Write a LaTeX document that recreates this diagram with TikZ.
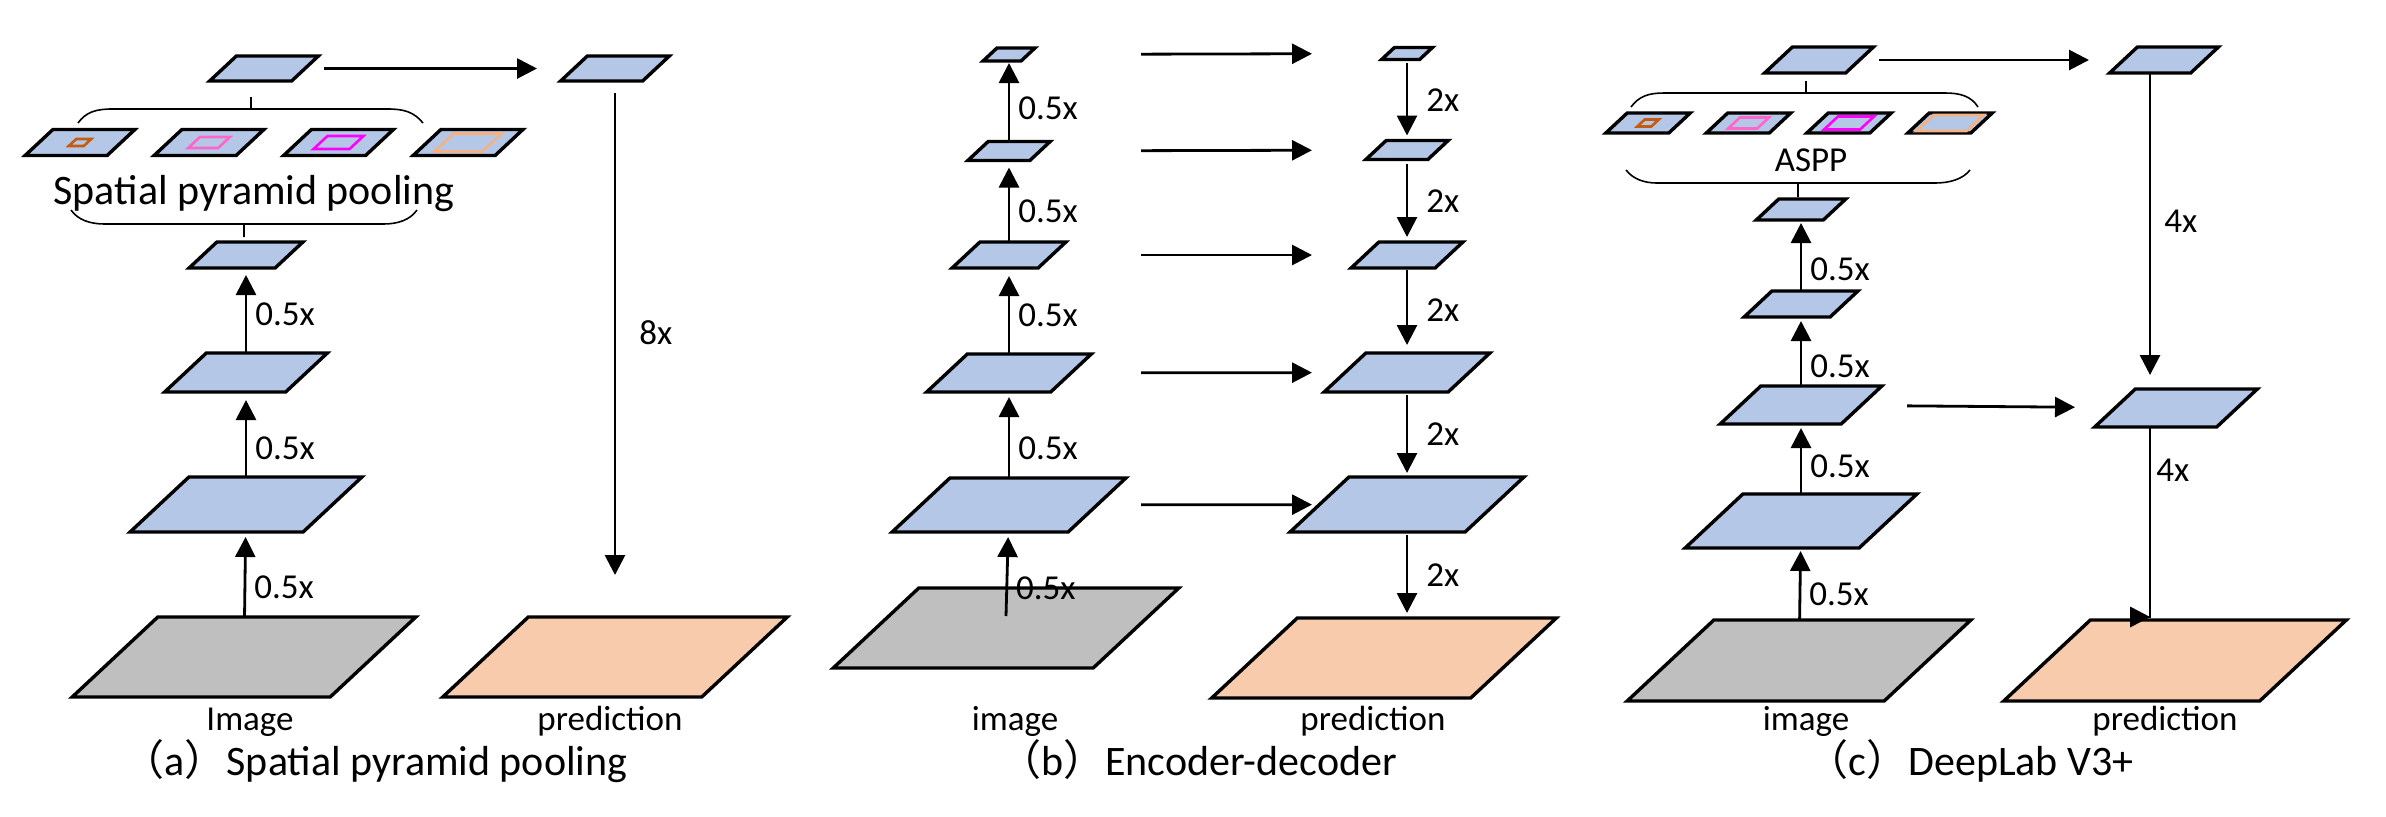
\documentclass[tikz,border=0pt]{standalone}
\usepackage{fontspec}
\setmainfont{Carlito}
\newfontfamily\cjk{Noto Sans CJK SC}
\usetikzlibrary{arrows.meta,calc}
\definecolor{featblue}{HTML}{B4C7E7}
\definecolor{imggray}{HTML}{BFBFBF}
\definecolor{predpeach}{HTML}{F8CBAD}
\definecolor{wdark}{HTML}{C55A11}
\definecolor{wpink}{HTML}{FF66CC}
\definecolor{wmag}{HTML}{FF00FF}
\definecolor{wpeach}{HTML}{F4B183}

\begin{document}
\begin{tikzpicture}[x=0.5pt, y=-0.5pt, font=\fontsize{17.5pt}{21pt}\selectfont, fmap/.style={rectangle, inner sep=0pt, outer sep=0pt}, sz/.style 2 args={minimum width={#1*0.5pt}, minimum height={#2*0.5pt}}, mapline/.style={draw=black, line width=1.7pt}, winline/.style={line width=1.3pt}, arrow/.style={-{Triangle[length=10pt, width=10pt]}, line width=1.4pt}, lbl/.style={right, inner sep=4pt}, bracketline/.style={line width=0.8pt}, undertext/.style={anchor=base, inner sep=0pt}, captext/.style={anchor=base, inner sep=0pt, font=\fontsize{21pt}{25pt}\selectfont}]
\useasboundingbox (0,0) rectangle (2386,816);
% (a) spatial pyramid pooling
\node[fmap, sz={82}{25}] (atop) at (264,68.5) {};
\node[fmap, sz={82}{25}] (apool) at (615,68.5) {};
\node[fmap, sz={82}{26}] (as1) at (80,142.5) {};
\node[fmap, sz={82}{26}] (as2) at (209,142.5) {};
\node[fmap, sz={82}{26}] (as3) at (338.5,142.5) {};
\node[fmap, sz={82}{26}] (as4) at (468,142.5) {};
\node[fmap, sz={15}{7}] (aw1) at (as1) {};
\node[fmap, sz={30}{11}] (aw2) at (as2) {};
\node[fmap, sz={36}{13}] (aw3) at (as3) {};
\node[fmap, sz={48}{18}] (aw4) at (as4) {};
\node[fmap, sz={86}{26}] (a3) at (246,255) {};
\node[fmap, sz={121}{39}] (a2) at (246,372.5) {};
\node[fmap, sz={173}{55}] (a1) at (246,504.5) {};
\node[fmap, sz={258}{80}] (aimg) at (244,657) {};
\node[fmap, sz={259}{80}] (apred) at (615,657) {};
% (b) encoder-decoder
\node[fmap, sz={38}{13}] (e5) at (1009,54.5) {};
\node[fmap, sz={62}{19}] (e4) at (1009,151) {};
\node[fmap, sz={86}{26}] (e3) at (1009,255) {};
\node[fmap, sz={124}{38}] (e2) at (1009,373) {};
\node[fmap, sz={176}{54}] (e1) at (1009,505) {};
\node[fmap, sz={260}{80}] (eimg) at (1006,628) {};
\node[fmap, sz={38}{12}] (d5) at (1407,53.5) {};
\node[fmap, sz={62}{19}] (d4) at (1407,150) {};
\node[fmap, sz={84}{26}] (d3) at (1407,255) {};
\node[fmap, sz={124}{39}] (d2) at (1407,372.5) {};
\node[fmap, sz={175}{55}] (d1) at (1407,504.5) {};
\node[fmap, sz={259}{80}] (dpred) at (1384,658) {};
% (c) DeepLab V3+
\node[fmap, sz={81}{26}] (ctop) at (1819,60) {};
\node[fmap, sz={81}{26}] (cpool) at (2164,60) {};
\node[fmap, sz={63}{20}] (cs1) at (1648,123) {};
\node[fmap, sz={63}{20}] (cs2) at (1748.5,123) {};
\node[fmap, sz={63}{20}] (cs3) at (1849,123) {};
\node[fmap, sz={63}{20}] (cs4) at (1950,123) {};
\node[fmap, sz={14}{7}] (cw1) at (cs1) {};
\node[fmap, sz={29}{11}] (cw2) at (cs2) {};
\node[fmap, sz={36}{13}] (cw3) at (cs3) {};
\node[fmap, sz={50}{16}] (cw4) at (cs4) {};
\node[fmap, sz={67}{21}] (cn3) at (1801,209.5) {};
\node[fmap, sz={86}{26}] (cn2) at (1801,304) {};
\node[fmap, sz={121}{38}] (cn1) at (1801,405) {};
\node[fmap, sz={174}{54}] (cn0) at (1801,521) {};
\node[fmap, sz={257}{81}] (cimg) at (1799,660.5) {};
\node[fmap, sz={122}{38}] (cd1) at (2176,408) {};
\node[fmap, sz={256}{81}] (cpred) at (2175,660.5) {};
% slanted feature maps
\foreach \m/\col in {atop/featblue, apool/featblue, as1/featblue, as2/featblue, as3/featblue, as4/featblue, a3/featblue, a2/featblue, a1/featblue, aimg/imggray, apred/predpeach, e5/featblue, e4/featblue, e3/featblue, e2/featblue, e1/featblue, eimg/imggray, d5/featblue, d4/featblue, d3/featblue, d2/featblue, d1/featblue, dpred/predpeach, ctop/featblue, cpool/featblue, cs1/featblue, cs2/featblue, cs3/featblue, cs4/featblue, cn3/featblue, cn2/featblue, cn1/featblue, cn0/featblue, cimg/imggray, cd1/featblue, cpred/predpeach}
  \filldraw[mapline, fill=\col] let \p1=(\m.north west), \p2=(\m.south east), \n1={0.535*(\y1-\y2)} in (\x1+\n1,\y1) -- (\x2+\n1,\y1) -- (\x2-\n1,\y2) -- (\x1-\n1,\y2) -- cycle;
\foreach \m/\col in {aw1/wdark, aw2/wpink, aw3/wmag, aw4/wpeach, cw1/wdark, cw2/wpink, cw3/wmag, cw4/wpeach}
  \draw[winline, draw=\col] let \p1=(\m.north west), \p2=(\m.south east), \n1={0.535*(\y1-\y2)} in (\x1+\n1,\y1) -- (\x2+\n1,\y1) -- (\x2-\n1,\y2) -- (\x1-\n1,\y2) -- cycle;
% (a) connectors and texts
\node[anchor=base, inner sep=1pt, font=\fontsize{21pt}{25pt}\selectfont] (asppt) at (254,204) {Spatial pyramid pooling};
\draw[bracketline] (78,123) .. controls (86,112) and (96,109) .. (112,109) -- (388,109) .. controls (404,109) and (414,112) .. (423,123) (251,97) -- (251,109);
\draw[bracketline] (71,210) .. controls (78,220) and (90,224) .. (105,224) -- (383,224) .. controls (398,224) and (410,220) .. (417,210) (244,224) -- (244,237);
\draw[arrow, shorten <=9.5pt, shorten >=18.5pt] (atop) -- (apool);
\draw[arrow, shorten <=6pt, shorten >=21pt] (apool) -- node[lbl, pos=0.47, xshift=7.5pt] (la8) {8x} (apred);
\draw[arrow, shorten >=2.5pt] (aimg) -- node[lbl, pos=0.35] (la1) {0.5x} (a1);
\draw[arrow, shorten >=4pt] (a1) -- node[lbl, pos=0.34] (la2) {0.5x} (a2);
\draw[arrow, shorten >=3.5pt] (a2) -- node[lbl, pos=0.45] (la3) {0.5x} (a3);
\node[undertext] (aimgtxt) at (250,730) {Image};
\node[undertext] (apredtxt) at (610,730) {prediction};
\node[captext] (acap) at (375,775) {{\cjk （}a{\cjk ）}Spatial pyramid pooling};
% (b) connectors and texts
\draw[arrow, shorten >=2.5pt] ([yshift=6pt]eimg.center) -- node[lbl, pos=0.33] (lb1) {0.5x} (e1);
\draw[arrow, shorten >=2.5pt] (e1) -- node[lbl, pos=0.35] (lb2) {0.5x} (e2);
\draw[arrow, shorten >=4pt] (e2) -- node[lbl, pos=0.45] (lb3) {0.5x} (e3);
\draw[arrow, shorten >=3.5pt] (e3) -- node[lbl, pos=0.38] (lb4) {0.5x} (e4);
\draw[arrow, shorten >=1pt] (e4) -- node[lbl, pos=0.41] (lb5) {0.5x} (e5);
\draw[arrow, shorten <=1.5pt, shorten >=2.5pt] (d5) -- node[lbl, xshift=5pt] (ld4) {2x} (d4);
\draw[arrow, shorten <=2pt, shorten >=2.5pt] (d4) -- node[lbl, xshift=5pt] (ld3) {2x} (d3);
\draw[arrow, shorten <=1pt, shorten >=4pt] (d3) -- node[lbl, xshift=5pt] (ld2) {2x} (d2);
\draw[arrow, shorten <=1.5pt, shorten >=2pt] (d2) -- node[lbl, xshift=5pt] (ld1) {2x} (d1);
\draw[arrow, shorten <=1.5pt, shorten >=2.5pt] (d1) -- node[lbl, xshift=5pt] (ld0) {2x} (d1 |- dpred.north);
\foreach \r/\sa/\sb in {5/56.5pt/38pt, 4/50.5pt/32pt, 3/44.5pt/26.5pt, 2/35pt/16.5pt, 1/22pt/3.75pt}
  \draw[arrow, shorten <=\sa, shorten >=\sb] (e\r) -- (d\r);
\node[undertext] (eimgtxt) at (1015,730) {image};
\node[undertext] (dpredtxt) at (1373,730) {prediction};
\node[captext] (bcap) at (1198,775) {{\cjk （}b{\cjk ）}Encoder-decoder};
% (c) connectors and texts
\node[anchor=base, inner sep=1pt] (caspp) at (1811,171) {ASPP};
\draw[bracketline] (1631,107) .. controls (1639,96) and (1649,93) .. (1664,93) -- (1945,93) .. controls (1960,93) and (1971,96) .. (1978,107) (1806,81) -- (1806,93);
\draw[bracketline] (1626,170) .. controls (1633,179) and (1644,183) .. (1657,183) -- (1935,183) .. controls (1950,183) and (1963,179) .. (1970,170) (1798,183) -- (1798,197);
\draw[arrow, shorten <=9.75pt, shorten >=17.25pt] (ctop) -- (cpool);
\draw[arrow, shorten <=22.75pt, shorten >=20pt] (cn1) -- (cd1);
\draw[arrow, shorten >=1.5pt] (cimg) -- node[lbl, pos=0.36] (lc1) {0.5x} (cn0);
\draw[arrow, shorten >=2pt] (cn0) -- node[lbl, pos=0.39] (lc2) {0.5x} (cn1);
\draw[arrow, shorten >=2pt] (cn1) -- node[lbl, pos=0.29] (lc3) {0.5x} (cn2);
\draw[arrow, shorten >=1.5pt] (cn2) -- node[lbl, pos=0.31] (lc4) {0.5x} (cn3);
\path (cpool.south |- cd1.north) ++(-7pt,0) coordinate (cmid);
\path (cd1.south |- cpred.north) ++(-13pt,1.5pt) coordinate (ctip);
\draw[arrow, shorten >=7pt] ([xshift=-7pt]cpool.south) -- node[lbl, pos=0.47, xshift=2.5pt] (lc4x) {4x} (cmid);
\draw[arrow] ([xshift=-13pt]cd1.south) -- node[lbl, pos=0.23, xshift=-1.5pt] (lc4y) {4x} (ctip) -- ++(0.1pt,0);
\node[undertext] (cimgtxt) at (1806,730) {image};
\node[undertext] (cpredtxt) at (2165,730) {prediction};
\node[captext] (ccap) at (1970,775) {{\cjk （}c{\cjk ）}DeepLab V3+};
\end{tikzpicture}
\end{document}
